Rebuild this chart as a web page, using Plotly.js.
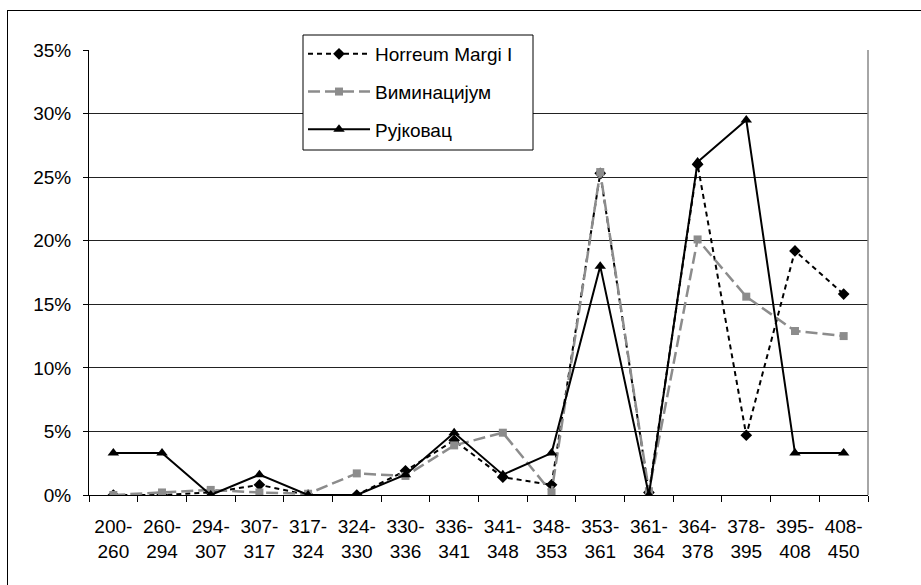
<!DOCTYPE html>
<html>
<head>
<meta charset="utf-8">
<script src="https://cdn.plot.ly/plotly-3.0.1.min.js"></script>
<style>
  html, body { margin: 0; padding: 0; background: #fff; }
  #frame { position: absolute; left: 7px; top: 10px; width: 914px; height: 575px; border-left: 1px solid #000; border-top: 1px solid #000; box-sizing: border-box; pointer-events: none; }
  #chart { width: 921px; height: 585px; }
</style>
</head>
<body>
<div id="chart"></div>
<div id="frame"></div>
<script>
const categories = ["200-<br>260","260-<br>294","294-<br>307","307-<br>317","317-<br>324","324-<br>330","330-<br>336","336-<br>341","341-<br>348","348-<br>353","353-<br>361","361-<br>364","364-<br>378","378-<br>395","395-<br>408","408-<br>450"];
const horreum  = [0, 0, 0.2, 0.8, 0, 0, 1.9, 4.3, 1.4, 0.8, 25.3, 0.2, 26.0, 4.7, 19.2, 15.8];
const vimin    = [0, 0.2, 0.4, 0.2, 0.1, 1.7, 1.5, 3.9, 4.9, 0.2, 25.4, 0.3, 20.1, 15.6, 12.9, 12.5];
const rujkovac = [3.3, 3.3, 0, 1.6, 0, 0, 1.6, 4.9, 1.6, 3.3, 18.0, 0, 26.2, 29.5, 3.3, 3.3];
const seriesNames = ["Horreum Margi I", "Виминацијум", "Рујковац"];

const plotL = 89, plotR = 868, plotT = 50, plotB = 495;
const px = v => (v - plotL) / (plotR - plotL);
const py = v => (plotB - v) / (plotB - plotT);

const traces = [
  {x: categories, y: horreum, name: seriesNames[0], legendgroup: "a", type: "scatter", mode: "lines+markers",
   line: {color: "#000", width: 2, dash: "5px,4px"}, marker: {symbol: "diamond", size: 9, color: "#000"}},
  {x: categories, y: vimin, name: seriesNames[1], legendgroup: "b", type: "scatter", mode: "lines+markers",
   line: {color: "#8c8c8c", width: 2.5, dash: "12px,5px"}, marker: {symbol: "square", size: 8, color: "#8c8c8c"}},
  {x: categories, y: rujkovac, name: seriesNames[2], legendgroup: "c", type: "scatter", mode: "lines+markers",
   line: {color: "#000", width: 2}, marker: {symbol: "triangle-up", size: 10, color: "#000"}}
];

const layout = {
  width: 921, height: 585,
  margin: {l: plotL, r: 921 - plotR, t: plotT, b: 585 - plotB},
  paper_bgcolor: "#fff", plot_bgcolor: "#fff",
  font: {family: "Liberation Sans, Arial, sans-serif", size: 19, color: "#000"},
  showlegend: true,
  legend: {x: px(303), y: py(35), xanchor: "left", yanchor: "top", bgcolor: "rgba(0,0,0,0)",
           borderwidth: 0, font: {size: 19}, traceorder: "grouped", tracegroupgap: 10,
           itemwidth: 62},
  xaxis: {type: "category", range: [-0.5, 15.5], autorange: false, showline: true, linecolor: "#000", linewidth: 1,
          ticks: "outside", tickson: "boundaries", ticklen: 6, tickcolor: "#000",
          showgrid: false, zeroline: false, tickfont: {size: 19}, ticklabelstandoff: 14},
  yaxis: {range: [0, 35], autorange: false, dtick: 5, ticksuffix: "%", showline: true, linecolor: "#000",
          ticks: "outside", ticklen: 5, tickcolor: "#000", showgrid: true, gridcolor: "#222",
          gridwidth: 1, zeroline: false, tickfont: {size: 19}, ticklabelstandoff: 8},
  shapes: [
    {type: "line", xref: "paper", yref: "paper", x0: 1, x1: 1, y0: 0, y1: 1, line: {color: "#888", width: 1.5}},
    {type: "rect", xref: "paper", yref: "paper", x0: px(303), x1: px(533), y0: py(35), y1: py(150),
     fillcolor: "#fff", line: {color: "#000", width: 1}, layer: "above"}
  ]
};

Plotly.newPlot("chart", traces, layout, {displayModeBar: false, staticPlot: true});
</script>
</body>
</html>
